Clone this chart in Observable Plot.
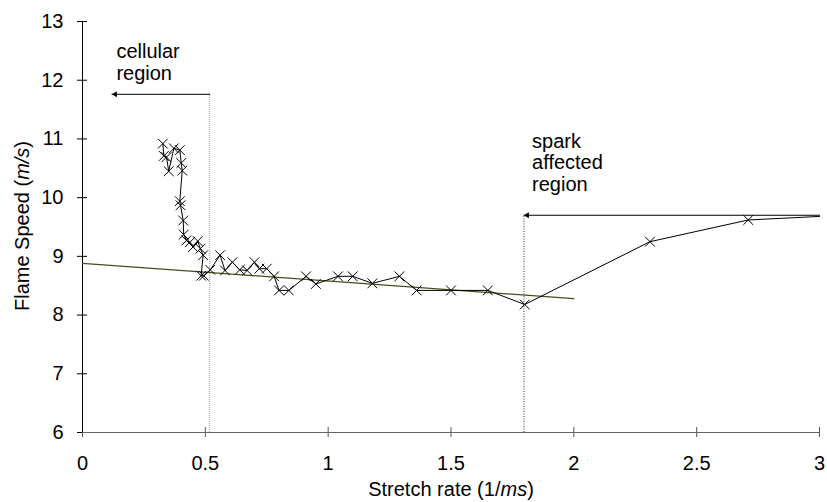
<!DOCTYPE html>
<html>
<head>
<meta charset="utf-8">
<script src="https://cdn.jsdelivr.net/npm/d3@7"></script>
<script src="https://cdn.jsdelivr.net/npm/@observablehq/plot@0.6"></script>
<style>
  html, body { margin: 0; padding: 0; background: #fff; }
  #chart { width: 827px; height: 502px; }
</style>
</head>
<body>
<div id="chart"></div>
<script>
// Measured series (time order: from high stretch rate down to low)
const stretchRate = [3.00, 2.71, 2.31, 1.80, 1.65, 1.50, 1.36, 1.29, 1.18, 1.10, 1.04, 0.95, 0.91, 0.84, 0.80, 0.78, 0.75, 0.72, 0.70, 0.67, 0.64, 0.61, 0.58, 0.56, 0.52, 0.494, 0.483, 0.491, 0.48, 0.469, 0.45, 0.437, 0.423, 0.412, 0.41, 0.399, 0.396, 0.406, 0.402, 0.396, 0.372, 0.351, 0.342, 0.331, 0.327];
const flameSpeed  = [9.68, 9.62, 9.25, 8.18, 8.42, 8.42, 8.42, 8.66, 8.54, 8.66, 8.66, 8.53, 8.66, 8.42, 8.42, 8.66, 8.79, 8.79, 8.90, 8.76, 8.77, 8.90, 8.76, 9.02, 8.77, 8.67, 8.67, 9.02, 9.13, 9.26, 9.16, 9.24, 9.27, 9.37, 9.61, 9.87, 9.94, 10.46, 10.59, 10.81, 10.84, 10.45, 10.69, 10.71, 10.92];
const markerShown = stretchRate.map((d, i) => i > 0);

// Linear fit line
const fitX = [0, 2.0];
const fitY = [8.88, 8.28];

// Annotations
const cellularBoundary = 0.518, cellularArrowY = 11.76, cellularArrowTip = 0.12;
const sparkBoundary = 1.797, sparkArrowY = 9.70, sparkArrowStart = 3.0;
const cellularLabel = "cellular\nregion";
const sparkLabel = "spark\naffected\nregion";

// Axis ticks
const xTicks = [0, 0.5, 1, 1.5, 2, 2.5, 3];
const yTicks = [6, 7, 8, 9, 10, 11, 12, 13];

const series = stretchRate.map((x, i) => ({x, y: flameSpeed[i], m: markerShown[i]}));
const fit = fitX.map((x, i) => ({x, y: fitY[i]}));

const FONT = "'Liberation Sans', Arial, sans-serif";
const FS = 20;

const plot = Plot.plot({
  width: 827,
  height: 502,
  marginLeft: 82,
  marginRight: 8,
  marginTop: 21,
  marginBottom: 70,
  style: {fontFamily: FONT, fontSize: FS + "px", background: "#fff", color: "#000"},
  x: {domain: [0, 3]},
  y: {domain: [6, 13]},
  marks: [
    Plot.axisX(xTicks, {tickSize: 10, dy: -5, tickPadding: 18, label: null, stroke: "#555", fill: "#000", fontSize: FS, tickFormat: d => String(d)}),
    Plot.axisY(yTicks, {tickSize: 10, dx: 5, tickPadding: 14, label: null, stroke: "#000", fill: "#000", fontSize: FS, tickFormat: d => String(d)}),
    Plot.ruleY([6], {stroke: "#666"}),
    Plot.ruleX([0], {stroke: "#000"}),
    // annotation guides
    Plot.ruleX([cellularBoundary], {y1: 6, y2: cellularArrowY, stroke: "#999", strokeDasharray: "1,1"}),
    Plot.ruleX([sparkBoundary], {y1: 6, y2: sparkArrowY, stroke: "#333", strokeDasharray: "1,1.5"}),
    Plot.line([{x: cellularBoundary, y: cellularArrowY}, {x: cellularArrowTip, y: cellularArrowY}], {x: "x", y: "y", stroke: "#000", strokeWidth: 1}),
    Plot.line([{x: sparkArrowStart, y: sparkArrowY}, {x: sparkBoundary, y: sparkArrowY}], {x: "x", y: "y", stroke: "#000", strokeWidth: 1}),
    Plot.dot([{x: cellularArrowTip, y: cellularArrowY}, {x: sparkBoundary, y: sparkArrowY}], {x: "x", y: "y", symbol: "triangle", r: 2.2, rotate: -90, dx: 3.2, fill: "#000", stroke: "none"}),
    // fit line
    Plot.line(fit, {x: "x", y: "y", stroke: "#4b4b1e", strokeWidth: 1.2}),
    // data
    Plot.line(series, {x: "x", y: "y", stroke: "#000", strokeWidth: 1}),
    Plot.dot(series.filter(d => d.m), {x: "x", y: "y", symbol: "times", r: 4.5, stroke: "#000", strokeWidth: 1}),
    // annotation labels
    Plot.text([cellularLabel], {x: 0.138, y: 12.64, text: d => d, textAnchor: "start", lineAnchor: "top", lineHeight: 1.1, fontSize: FS, fill: "#000"}),
    Plot.text([sparkLabel], {x: 1.83, y: 11.12, text: d => d, textAnchor: "start", lineAnchor: "top", lineHeight: 1.1, fontSize: FS, fill: "#000"})
  ]
});

const svg = d3.select(plot);
const xl = svg.append("text")
  .attr("x", 451).attr("y", 496)
  .attr("text-anchor", "middle")
  .attr("font-size", FS).attr("font-family", FONT).attr("fill", "#000");
xl.append("tspan").text("Stretch rate (1/");
xl.append("tspan").attr("font-style", "italic").text("ms");
xl.append("tspan").text(")");

const yl = svg.append("text")
  .attr("transform", "translate(29,226) rotate(-90)")
  .attr("text-anchor", "middle")
  .attr("font-size", FS).attr("font-family", FONT).attr("fill", "#000");
yl.append("tspan").text("Flame Speed (");
yl.append("tspan").attr("font-style", "italic").text("m/s");
yl.append("tspan").text(")");

document.getElementById("chart").appendChild(plot);
</script>
</body>
</html>
